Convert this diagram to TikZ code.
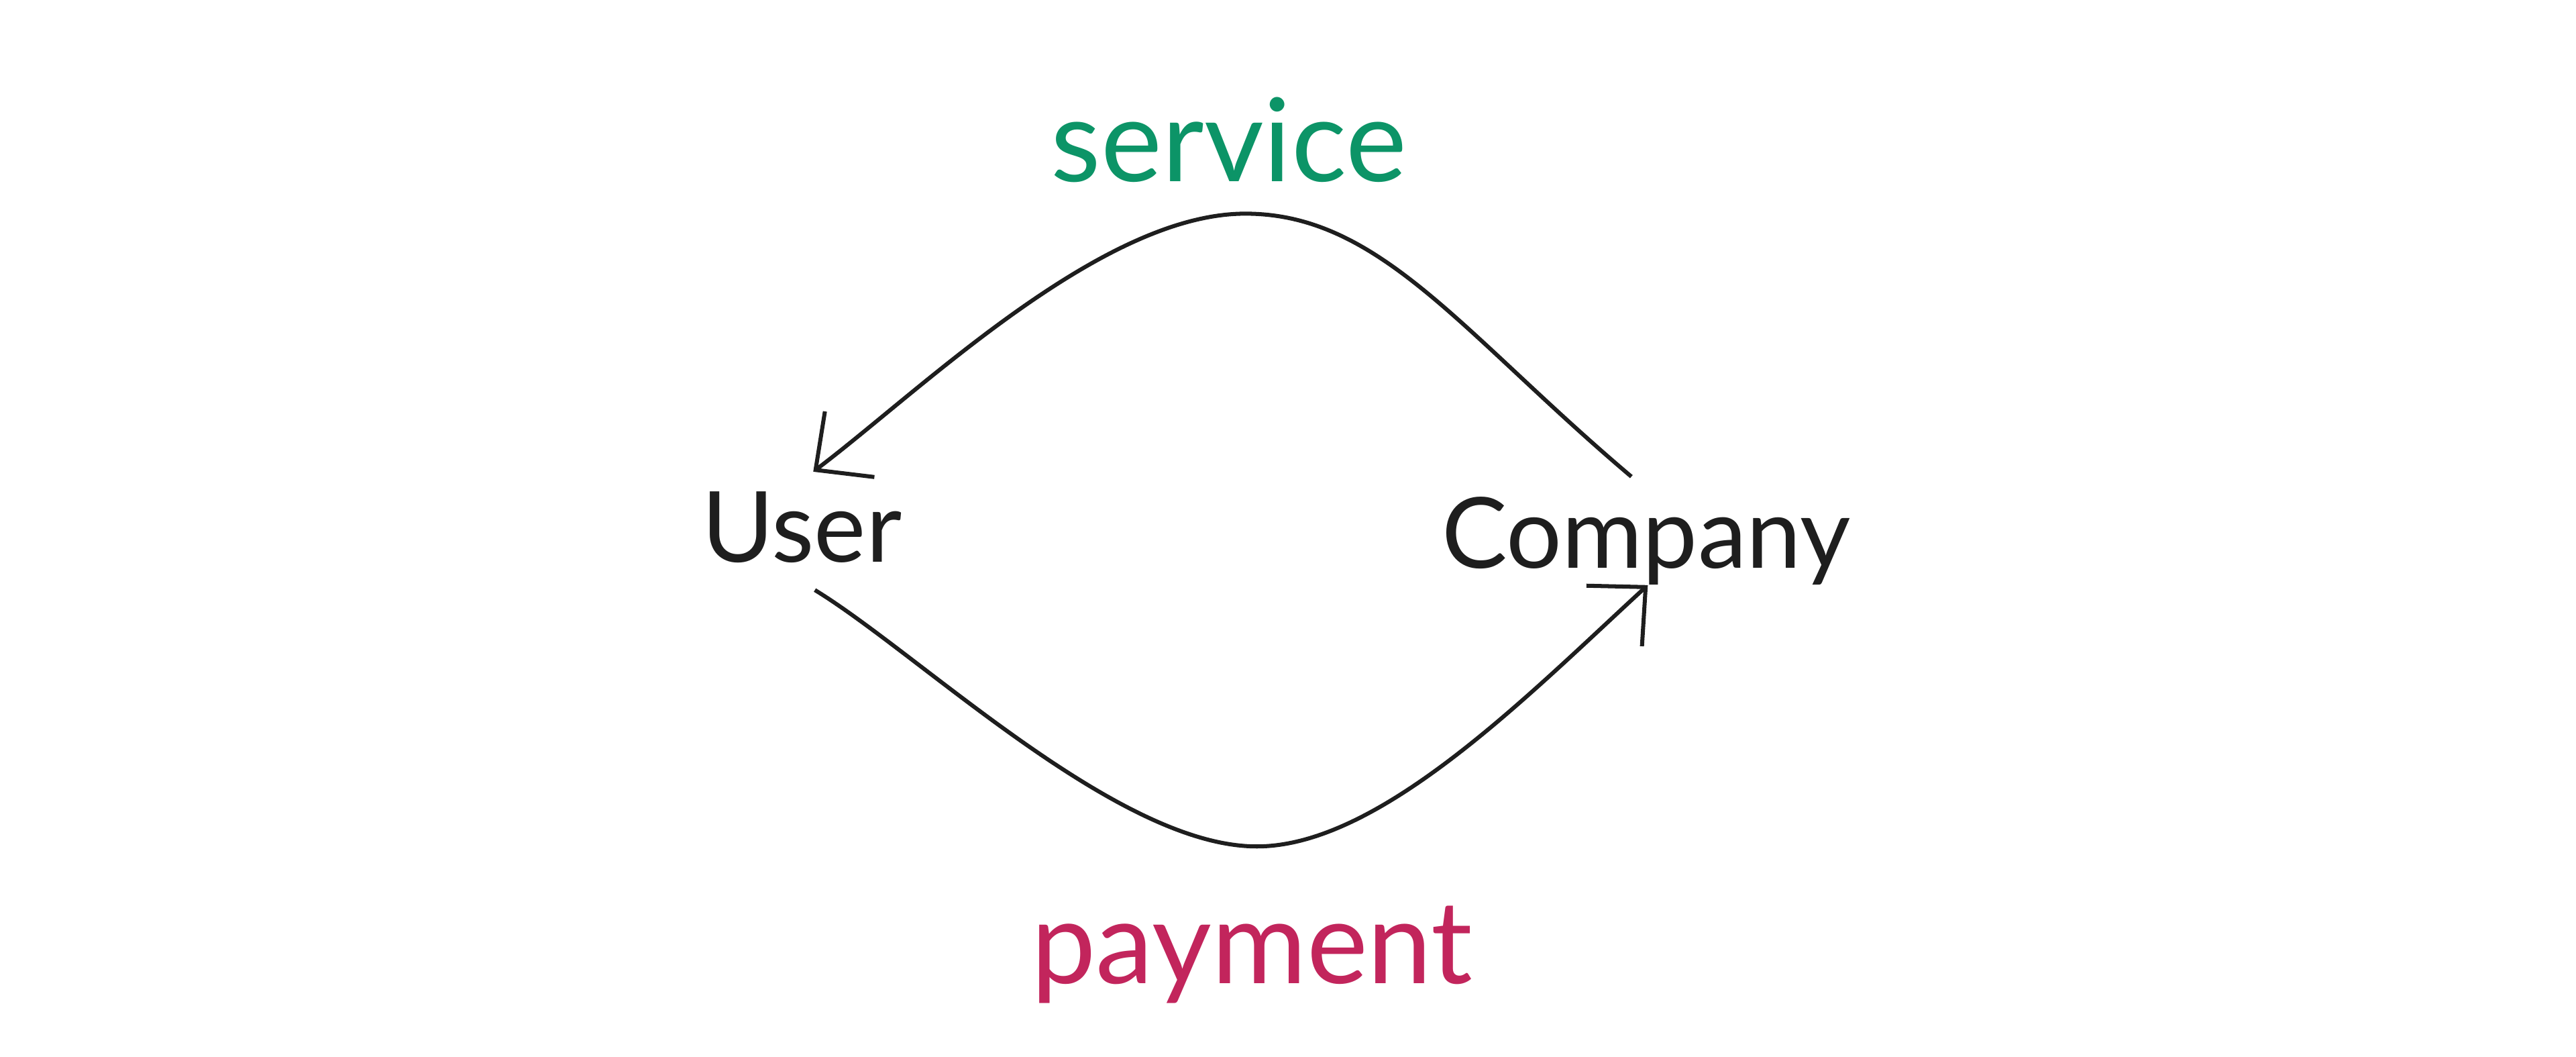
\documentclass[tikz,border=0pt]{standalone}
\usepackage{fontspec}
\setmainfont{Lato}
\usetikzlibrary{arrows.meta}
\definecolor{servicegreen}{HTML}{0C9467}
\definecolor{paymentred}{HTML}{C2255C}
\definecolor{inkgray}{HTML}{1E1E1E}
\tikzset{%
  party/.style = {text=inkgray, font=\fontsize{17}{20}\selectfont},
  flow/.style  = {text=inkgray, font=\fontsize{20}{24}\selectfont},
  arrow/.style = {draw=inkgray, line width=0.7pt, -{Straight Barb[length=2.6mm, width=5mm]}}
}
\begin{document}
\begin{tikzpicture}
\useasboundingbox (0,0) rectangle (15.68,6.43);

\node [party] (user)    at (4.88,3.22) {User};
\node [party] (company) at (10.02,3.14) {Company};
\node [flow, text=servicegreen] (service) at (7.48,5.58) {service};
\node [flow, text=paymentred]   (payment) at (7.62,0.62) {payment};

\coordinate (s_start) at (9.93,3.53);
\coordinate (s_end)   at (4.95,3.56);
\coordinate (p_start) at (4.96,2.84);
\coordinate (p_end)   at (10.03,2.87);

\draw [arrow] (s_start) .. controls (8.9,4.4) and (8.4,5.13) .. (7.58,5.13)
  .. controls (6.7,5.13) and (5.6,4.05) .. (s_end);
\draw [arrow] (p_start) .. controls (5.6,2.45) and (6.8,1.28) .. (7.65,1.28)
  .. controls (8.4,1.28) and (9.3,2.2) .. (p_end);

\end{tikzpicture}
\end{document}
